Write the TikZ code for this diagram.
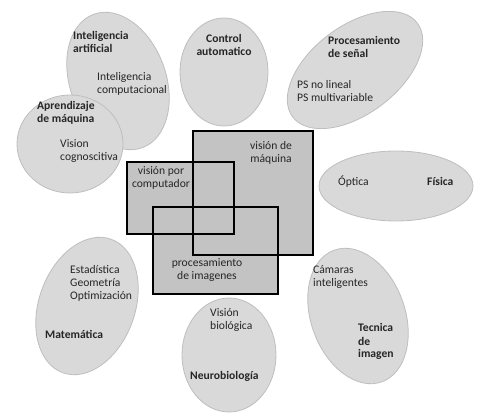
\documentclass[tikz,border=0pt]{standalone}
\usepackage{fontspec}
\setmainfont{Carlito}
\usepackage{tikz}
\usetikzlibrary{shapes.geometric}
\definecolor{blobfill}{RGB}{217,217,217}
\definecolor{blobline}{RGB}{190,190,190}
\definecolor{boxfill}{RGB}{195,195,195}

\begin{document}
\begin{tikzpicture}[x=1pt,y=-1pt,font=\fontsize{11.6}{13}\selectfont,
  blob/.style={ellipse,draw=blobline,fill=blobfill,line width=0.8pt,inner sep=0pt},
  txt/.style={anchor=base west,inner sep=0pt,align=left,text=black!85},
  hd/.style={txt,font=\fontsize{11.6}{13}\selectfont\bfseries}]
\useasboundingbox (0,0) rectangle (479,419);
% surrounding fields
\node[blob,minimum width=142,minimum height=96,rotate=-70] (ia) at (118,81) {};
\node[blob,minimum width=106,minimum height=98] (aprend) at (70,144) {};
\node[blob,minimum width=88,minimum height=108] (control) at (224,72) {};
\node[blob,minimum width=156,minimum height=88,rotate=37] (senal) at (355,70) {};
\node[blob,minimum width=154,minimum height=70] (fisica) at (396,186) {};
\node[blob,minimum width=142,minimum height=96,rotate=70] (mate) at (87,306) {};
\node[blob,minimum width=94,minimum height=114] (neuro) at (229,355) {};
\node[blob,minimum width=140,minimum height=94,rotate=-70] (tecnica) at (358,316) {};
% central boxes
\fill[boxfill] (193,131) rectangle (313,255);
\fill[boxfill] (127,162) rectangle (234,234);
\fill[boxfill] (153,207) rectangle (278,294);
\draw[line width=1.2pt] (193,131) rectangle (313,255);
\draw[line width=1.2pt] (127,162) rectangle (234,234);
\draw[line width=1.2pt] (153,207) rectangle (278,294);
% labels (base = last line)
\node[hd] (iaT) at (73,53) {Inteligencia\\artificial};
\node[txt] (icT) at (97,94) {Inteligencia\\computacional};
\node[hd] (apT) at (37,123) {Aprendizaje\\de máquina};
\node[txt] (vcT) at (60,161) {Vision\\cognoscitiva};
\node[hd,anchor=base,align=center] (ctT) at (224,56) {Control\\automatico};
\node[hd] (psT) at (328,58) {Procesamiento\\de señal};
\node[txt] (psL) at (297,102) {PS no lineal\\PS multivariable};
\node[txt,anchor=base,align=center] (vmT) at (271,163) {visión de\\máquina};
\node[txt,anchor=base,align=center] (vpT) at (161,188) {visión por\\computador};
\node[txt,anchor=base,align=center] (piT) at (207,280) {procesamiento\\de imagenes};
\node[txt] (opT) at (338,186) {Óptica};
\node[hd] (fiT) at (427,186) {Física};
\node[txt] (esT) at (70,300) {Estadística\\Geometría\\Optimización};
\node[hd] (maT) at (45,339) {Matemática};
\node[txt] (vbT) at (210,330) {Visión\\biológica};
\node[hd] (neT) at (190,379) {Neurobiología};
\node[txt] (caT) at (313,287) {Cámaras\\inteligentes};
\node[hd] (teT) at (358,358) {Tecnica\\de\\imagen};
\end{tikzpicture}
\end{document}
